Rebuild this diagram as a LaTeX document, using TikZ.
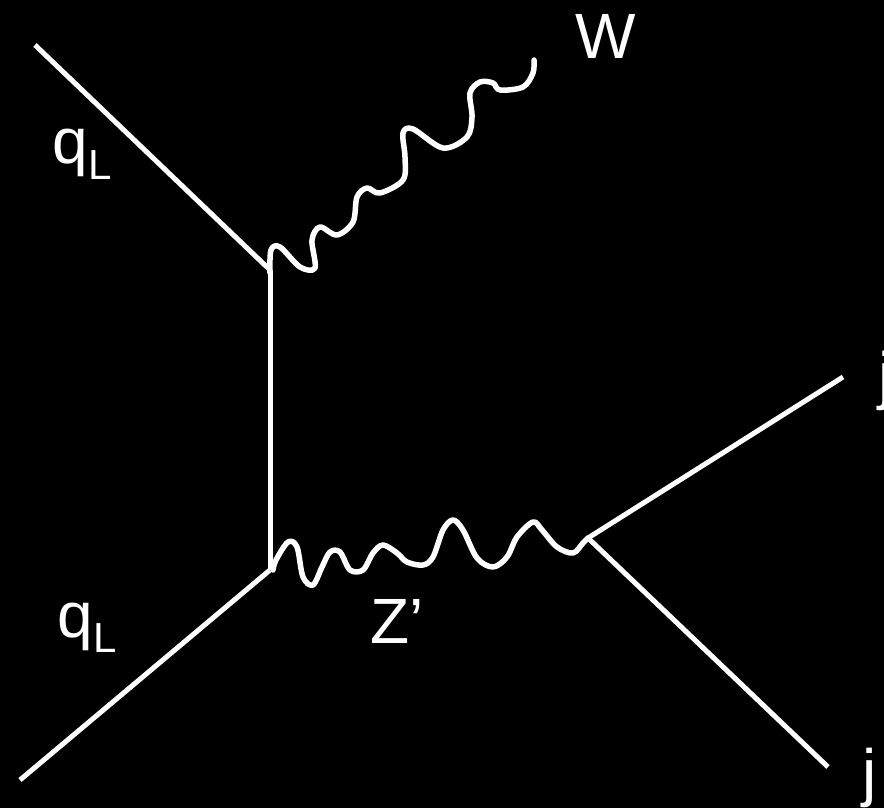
\documentclass[tikz,border=0pt]{standalone}
\usepackage{fontspec}
\setmainfont{Liberation Sans}
\begin{document}
\begin{tikzpicture}[x=1pt,y=-1pt,
  line/.style={white,line width=5pt},
  wave/.style={white,line width=5.5pt,line cap=round,line join=round},
  lbl/.style={white,inner sep=0pt,anchor=base west,font=\fontsize{64}{70}\selectfont}]
\fill[black] (0,0) rectangle (884,808);
\useasboundingbox (0,0) rectangle (884,808);
\coordinate (qa) at (35,45);
\coordinate (va) at (270,270);
\coordinate (vb) at (270,570);
\coordinate (qb) at (20,780);
\coordinate (vc) at (588,538);
\coordinate (ja) at (843,377);
\coordinate (jb) at (828,767);
\coordinate (wend) at (534,60);
\draw[line] (qa) -- (va);
\draw[line] (va) -- (vb);
\draw[line] (qb) -- (vb);
\draw[line] (vc) -- (ja);
\draw[line] (vc) -- (jb);
\draw[wave] plot[smooth,tension=0.55] coordinates {(270,273) (271,250) (280,247) (300,267) (315,268) (312,240) (320,227) (337,235) (353,222) (357,197) (367,188) (380,193) (403,180) (405,157) (403,133) (413,129) (443,148) (467,137) (472,117) (470,93) (480,82) (493,83) (500,90) (523,87) (533,73) (534,60)};
\draw[wave] plot[smooth,tension=0.55] coordinates {(273,570) (276,560) (288,542) (297,547) (303,577) (313,585) (322,567) (330,552) (340,552) (350,570) (363,570) (373,553) (383,545) (397,553) (407,562) (423,565) (433,557) (443,530) (453,520) (463,530) (477,558) (493,567) (507,557) (517,537) (533,522) (542,530) (557,547) (573,553) (583,543) (588,538)};
\node[lbl] (w) at (575,59) {W};
\node[lbl] (q1) at (52.5,163) {q\raisebox{-16pt}{\fontsize{42}{46}\selectfont L}};
\node[lbl] (q2) at (57.5,637) {q\raisebox{-15pt}{\fontsize{42}{46}\selectfont L}};
\node[lbl] (z) at (370,643) {Z’};
\node[lbl] (j1) at (878,397) {j};
\node[lbl] (j2) at (862,794) {j};
\end{tikzpicture}
\end{document}
